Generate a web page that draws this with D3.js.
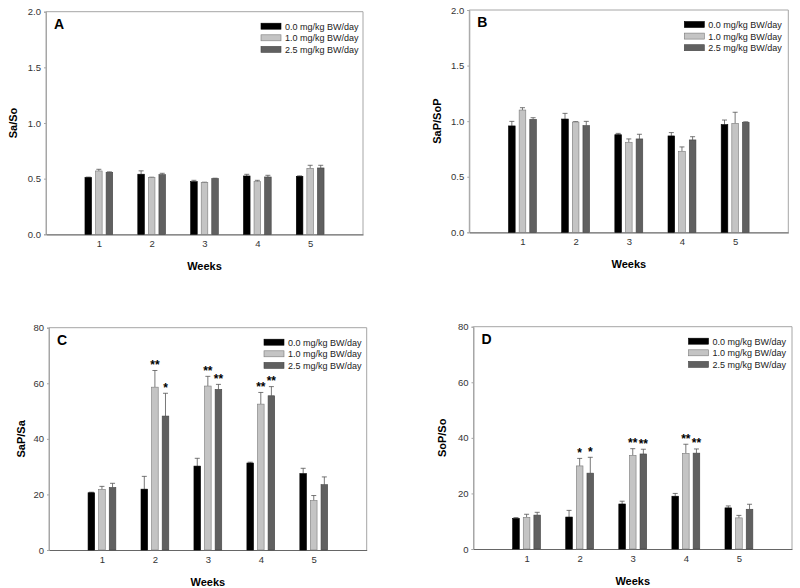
<!DOCTYPE html>
<html><head><meta charset="utf-8">
<script src="https://cdn.jsdelivr.net/npm/d3@7"></script>
<style>body{margin:0;background:#fff}svg{display:block}text{font-family:Arial,"Liberation Sans",sans-serif}</style>
</head><body>
<script>
const weeks = [1, 2, 3, 4, 5];
const doses = ["0.0 mg/kg BW/day", "1.0 mg/kg BW/day", "2.5 mg/kg BW/day"];
// Panel A: Sa/So
const aMean = [[0.51,0.54,0.473,0.524,0.521],[0.569,0.509,0.464,0.473,0.593],[0.557,0.536,0.50,0.515,0.596]];
const aErr  = [[0.004,0.03,0.012,0.015,0.004],[0.015,0.004,0.004,0.012,0.027],[0.004,0.012,0.004,0.015,0.024]];
// Panel B: SaP/SoP
const bMean = [[0.957,1.019,0.878,0.867,0.969],[1.10,0.992,0.81,0.729,0.98],[1.016,0.96,0.84,0.831,0.99]];
const bErr  = [[0.041,0.051,0.012,0.03,0.041],[0.021,0.004,0.03,0.039,0.10],[0.015,0.038,0.042,0.029,0.004]];
// Panel C: SaP/Sa
const cMean = [[20.6,21.9,30.2,31.3,27.5],[21.8,58.6,59.0,52.5,17.8],[22.5,48.2,57.8,55.5,23.5]];
const cErr  = [[0.2,4.6,2.8,0.3,1.9],[1.1,6.0,3.5,4.2,1.8],[1.5,8.2,1.8,3.3,2.8]];
const cStars = [["","","","",""],["","**","**","**",""],["","*","**","**",""]];
// Panel D: SoP/So
const dMean = [[11.0,11.5,16.2,19.0,14.8],[11.4,29.9,33.7,34.4,11.2],[12.2,27.3,34.2,34.5,14.3]];
const dErr  = [[0.3,2.4,1.0,1.0,0.7],[1.1,2.7,2.4,3.3,0.9],[1.0,5.7,1.7,1.5,1.8]];
const dStars = [["","","","",""],["","*","**","**",""],["","*","**","**",""]];
const aTicks = [0, 0.5, 1.0, 1.5, 2.0];
const cTicks = [0, 20, 40, 60, 80];

const fills = ["#000000", "#c4c4c4", "#606060"];
const strokes = ["#000000", "#7a7a7a", "#444444"];

const svg = d3.select("body").append("svg").attr("width", 800).attr("height", 588);

const panels = [
  {letter:"A", title:"Sa/So", mean:aMean, err:aErr, stars:null, ticks:aTicks, ymax:2.0, fmt:d3.format(".1f"),
   box:{l:46,r:363,t:11.7,b:234.3}, titleOff:33},
  {letter:"B", title:"SaP/SoP", mean:bMean, err:bErr, stars:null, ticks:aTicks, ymax:2.0, fmt:d3.format(".1f"),
   box:{l:469.3,r:788.3,t:10,b:232.3}, titleOff:32.6},
  {letter:"C", title:"SaP/Sa", mean:cMean, err:cErr, stars:cStars, ticks:cTicks, ymax:80, fmt:d3.format("d"),
   box:{l:49,r:366.7,t:327.7,b:550}, titleOff:27.5},
  {letter:"D", title:"SoP/So", mean:dMean, err:dErr, stars:dStars, ticks:cTicks, ymax:80, fmt:d3.format("d"),
   box:{l:473.5,r:792,t:326.7,b:549}, titleOff:31}
];

panels.forEach(p => {
  const B = p.box;
  const x = d3.scaleLinear().domain([0, 6]).range([B.l, B.r]);
  const y = d3.scaleLinear().domain([0, p.ymax]).range([B.b, B.t]);
  const g = svg.append("g");
  // frame
  g.append("path").attr("d", `M${B.l},${B.b}V${B.t}H${B.r}V${B.b}`)
    .attr("fill","none").attr("stroke","#a6a6a6").attr("stroke-width",1);

  // y axis
  const ya = d3.axisLeft(y).tickValues(p.ticks).tickFormat(p.fmt).tickSize(2).tickPadding(3);
  const yg = g.append("g").attr("transform",`translate(${B.l},0)`).call(ya);
  yg.select(".domain").attr("stroke","#a6a6a6");
  yg.selectAll(".tick line").attr("stroke","#a6a6a6");
  yg.selectAll("text").attr("font-size",9.5).attr("fill","#333").attr("font-family","Arial, Liberation Sans, sans-serif");

  // x axis
  const xa = d3.axisBottom(x).tickValues(weeks).tickFormat(d3.format("d")).tickSize(0).tickPadding(6);
  const xg = g.append("g").attr("transform",`translate(0,${B.b})`).call(xa);
  xg.select(".domain").attr("stroke","#666").attr("stroke-width",1.2);
  xg.selectAll("text").attr("font-size",9.5).attr("fill","#333").attr("font-family","Arial, Liberation Sans, sans-serif");

  const unit = x(1) - x(0);
  const bw = unit * 0.125;
  const offs = [-0.2, 0, 0.2];

  p.mean.forEach((series, si) => {
    series.forEach((v, wi) => {
      const cx = x(weeks[wi] + offs[si]);
      const e = p.err[si][wi];
      // error bar
      g.append("line").attr("x1",cx).attr("x2",cx).attr("y1",y(v)).attr("y2",y(v+e))
        .attr("stroke","#555").attr("stroke-width",0.8);
      g.append("line").attr("x1",cx-2.5).attr("x2",cx+2.5).attr("y1",y(v+e)).attr("y2",y(v+e))
        .attr("stroke","#555").attr("stroke-width",0.8);
      g.append("rect").attr("x",cx-bw/2).attr("y",y(v)).attr("width",bw).attr("height",y(0)-y(v))
        .attr("fill",fills[si]).attr("stroke",strokes[si]).attr("stroke-width",0.6);
      if (p.stars && p.stars[si][wi]) {
        g.append("text").attr("x",cx).attr("y",y(v+e)-1.5).attr("text-anchor","middle")
          .attr("font-size",12).attr("font-weight","bold").attr("fill","#000").text(p.stars[si][wi]);
      }
    });
  });

  // panel letter
  g.append("text").attr("x",B.l+8).attr("y",B.t+17).attr("font-size",14).attr("font-weight","bold").text(p.letter);

  // legend
  doses.forEach((d, i) => {
    const ly = B.t + 11.5 + i*11.6;
    g.append("rect").attr("x",B.l+215).attr("y",ly).attr("width",20).attr("height",6)
      .attr("fill",fills[i]).attr("stroke",strokes[i]).attr("stroke-width",0.6);
    g.append("text").attr("x",B.l+239).attr("y",ly+6.5).attr("font-size",9).attr("fill","#222").text(d);
  });

  // axis titles
  g.append("text").attr("x",(B.l+B.r)/2).attr("y",B.b+36).attr("text-anchor","middle")
    .attr("font-size",11).attr("font-weight","bold").text("Weeks");
  g.append("text").attr("transform",`translate(${B.l-p.titleOff},${(B.t+B.b)/2}) rotate(-90)`)
    .attr("text-anchor","middle").attr("dy","0.35em").attr("font-size",11).attr("font-weight","bold").text(p.title);
});
</script>
</body></html>
